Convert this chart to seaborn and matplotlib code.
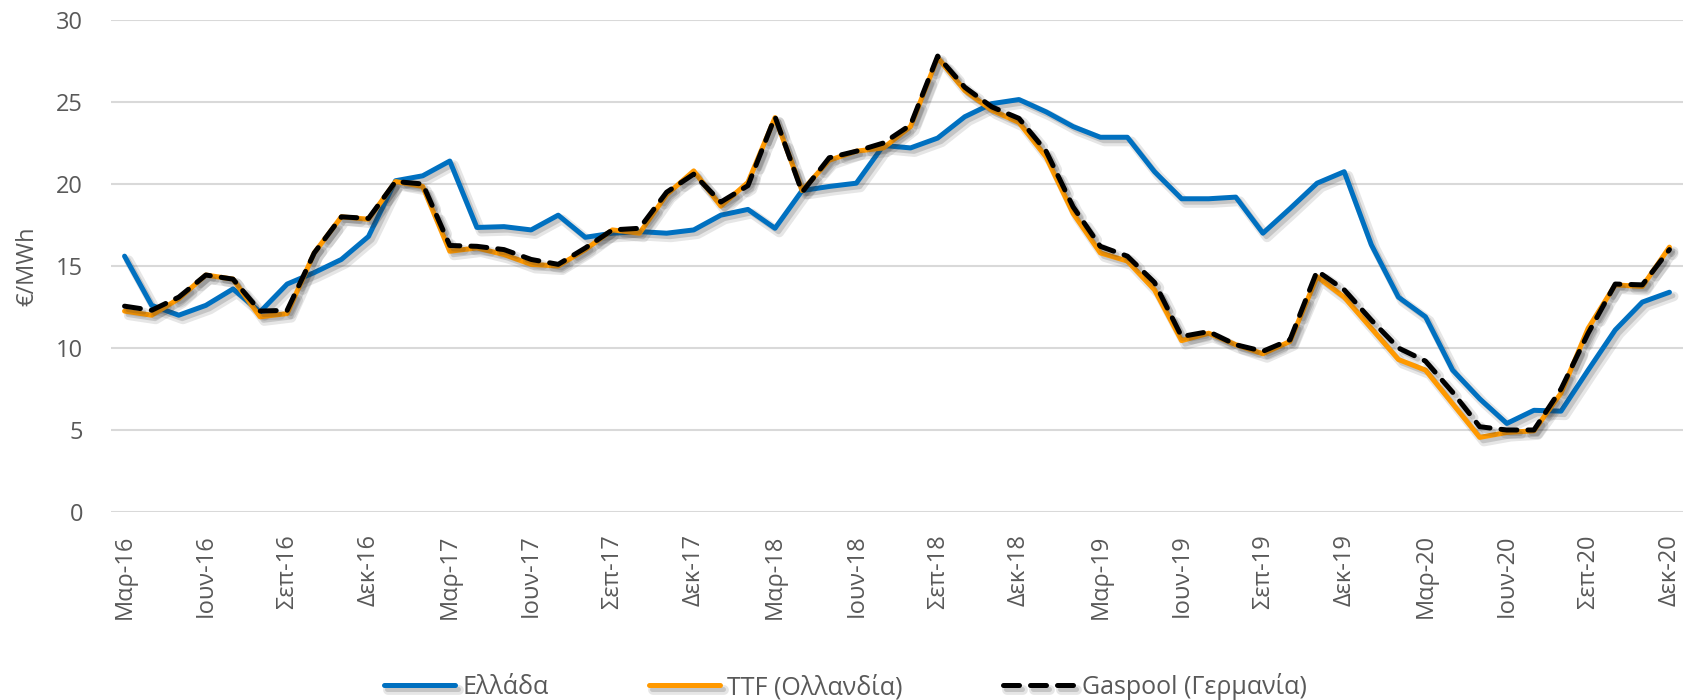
import pandas as pd
import seaborn as sns
import matplotlib.pyplot as plt
import matplotlib.patheffects as pe

# monthly prices, Mar-16 ... Dec-20 (€/MWh)
ellada = [15.6, 12.6, 12.0, 12.6, 13.6, 12.2, 13.9, 14.6, 15.4, 16.8,
          20.2, 20.5, 21.4, 17.35, 17.4, 17.2, 18.1, 16.75, 17.0, 17.1,
          17.0, 17.2, 18.1, 18.45, 17.3, 19.6, 19.85, 20.05, 22.35, 22.2,
          22.8, 24.1, 24.9, 25.15, 24.4, 23.5, 22.85, 22.85, 20.75, 19.1,
          19.1, 19.2, 17.0, 18.5, 20.05, 20.75, 16.3, 13.1, 11.9, 8.65,
          6.9, 5.4, 6.2, 6.15, 8.65, 11.1, 12.8, 13.4]
ttf = [12.25, 12.0, 13.0, 14.45, 14.2, 11.9, 12.1, 15.8, 18.0, 17.85,
       20.15, 19.85, 15.9, 16.1, 15.7, 15.1, 15.0, 16.0, 17.2, 17.0,
       19.35, 20.8, 18.65, 20.1, 24.05, 19.6, 21.45, 22.0, 22.2, 23.5,
       27.7, 25.7, 24.5, 23.75, 21.65, 18.2, 15.8, 15.3, 13.55, 10.45,
       10.9, 10.2, 9.65, 10.4, 14.35, 13.1, 11.2, 9.3, 8.65, 6.6,
       4.55, 4.85, 4.95, 7.25, 11.2, 13.85, 13.75, 16.15]
gaspool = [12.55, 12.3, 13.1, 14.45, 14.2, 12.25, 12.3, 15.8, 18.0, 17.9,
           20.15, 20.0, 16.25, 16.2, 16.0, 15.4, 15.1, 16.1, 17.2, 17.3,
           19.5, 20.6, 18.9, 19.9, 24.1, 19.5, 21.6, 22.0, 22.5, 23.6,
           27.8, 25.9, 24.7, 24.0, 22.0, 18.6, 16.2, 15.6, 14.0, 10.7,
           11.0, 10.2, 9.8, 10.5, 14.7, 13.55, 11.7, 10.0, 9.2, 7.3,
           5.2, 5.0, 5.0, 7.5, 10.9, 13.9, 13.85, 16.0]

tick_labels = ['Μαρ-16', 'Ιουν-16', 'Σεπ-16', 'Δεκ-16',
               'Μαρ-17', 'Ιουν-17', 'Σεπ-17', 'Δεκ-17',
               'Μαρ-18', 'Ιουν-18', 'Σεπ-18', 'Δεκ-18',
               'Μαρ-19', 'Ιουν-19', 'Σεπ-19', 'Δεκ-19',
               'Μαρ-20', 'Ιουν-20', 'Σεπ-20', 'Δεκ-20']

df = pd.DataFrame({'m': range(len(ellada)), 'Ελλάδα': ellada,
                   'TTF (Ολλανδία)': ttf, 'Gaspool (Γερμανία)': gaspool})

sns.set_style('white')
plt.rcParams['font.family'] = ['Open Sans', 'DejaVu Sans']
grey = '#595959'

fig = plt.figure(figsize=(16.87, 7), dpi=100)
ax = fig.add_axes([111/1687, 1 - 512/700, (1683 - 111)/1687, (512 - 20)/700])

# soft drop shadow like the Excel original
shadow = [pe.SimpleLineShadow(offset=(3, -3), alpha=0.12, shadow_color='#333333', linewidth=7),
          pe.SimpleLineShadow(offset=(2.5, -2.5), alpha=0.18, shadow_color='#333333'),
          pe.Normal()]

sns.lineplot(data=df, x='m', y='Ελλάδα', ax=ax, color='#0070C0', lw=3.6,
             label='Ελλάδα', path_effects=shadow)
sns.lineplot(data=df, x='m', y='TTF (Ολλανδία)', ax=ax, color='#FF9900', lw=3.6,
             label='TTF (Ολλανδία)', path_effects=shadow)
sns.lineplot(data=df, x='m', y='Gaspool (Γερμανία)', ax=ax, color='black', lw=3.6,
             label='Gaspool (Γερμανία)', path_effects=shadow,
             dashes=(3.2, 2.2), dash_capstyle='round')

ax.set_xlim(-0.5, len(ellada) - 0.5)
ax.set_ylim(0, 30)
ax.set_yticks(range(0, 31, 5))
ax.set_xticks(range(0, len(ellada), 3))
ax.set_xticklabels(tick_labels, rotation=90)
ax.tick_params(axis='both', colors=grey, labelsize=17, length=0)
ax.tick_params(axis='y', pad=20)
ax.tick_params(axis='x', pad=16)
ax.grid(axis='y', color='#d9d9d9', lw=1.5)
ax.set_axisbelow(True)
for s in ax.spines.values():
    s.set_visible(False)
ax.set_xlabel('')
ax.set_ylabel('€/MWh', color=grey, fontsize=17, labelpad=12)

ax.get_legend().remove()
h, l = ax.get_legend_handles_labels()
fig.legend(h, l, loc='center', bbox_to_anchor=(0.501, 0.019), ncol=3,
           frameon=False, fontsize=18, labelcolor=grey, handlelength=2.85,
           handletextpad=0.3, columnspacing=4.0, borderpad=0)

fig.savefig('out.png', dpi=100)
